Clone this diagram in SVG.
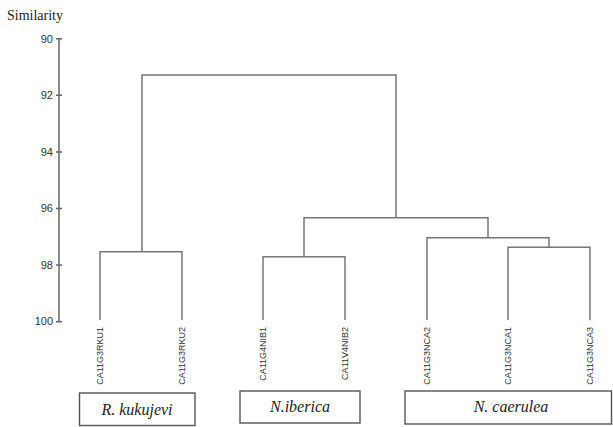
<svg xmlns="http://www.w3.org/2000/svg" width="613" height="427" viewBox="0 0 613 427">
<style>
.ln{fill:none;stroke:#777;stroke-width:1.5}
.ax{fill:none;stroke:#666;stroke-width:1.5}
.tk{font-family:"Liberation Sans",Arial,sans-serif;font-size:11px;fill:#333;text-anchor:end}
.lf{font-family:"Liberation Sans",Arial,sans-serif;font-size:9px;fill:#333;text-anchor:end}
.bx{fill:#fff;stroke:#555;stroke-width:1.4}
.sp{font-family:"Liberation Serif","Times New Roman",serif;font-style:italic;font-size:16px;fill:#222;text-anchor:middle}
</style>
<rect width="613" height="427" fill="#fff"/>
<text x="7" y="20" font-family="'Liberation Serif','Times New Roman',serif" font-size="14" fill="#222">Similarity</text>
<g id="axis">
<line class="ax" x1="59" y1="38.7" x2="59" y2="321.7"/>
<path class="ax" d="M56 38.7H62M56 95.3H62M56 151.9H62M56 208.5H62M56 265.1H62M56 321.7H62"/>
<text class="tk" x="53" y="42.5">90</text>
<text class="tk" x="53" y="99">92</text>
<text class="tk" x="53" y="155.6">94</text>
<text class="tk" x="53" y="212.2">96</text>
<text class="tk" x="53" y="268.8">98</text>
<text class="tk" x="53" y="325.4">100</text>
</g>
<g id="connectors">
<path class="ln" d="M142 251.7V75H396V217.7"/>
<path class="ln" d="M100 320V251.7H182V320"/>
<path class="ln" d="M304 256.7V217.7H488V237.7"/>
<path class="ln" d="M263 320V256.7H345V320"/>
<path class="ln" d="M427 320V237.7H549V247.3"/>
<path class="ln" d="M508 320V247.3H590V320"/>
</g>
<g id="leaf-CA11G3RKU1"><text class="lf" transform="translate(103,327) rotate(-90)">CA11G3RKU1</text></g>
<g id="leaf-CA11G3RKU2"><text class="lf" transform="translate(185,327) rotate(-90)">CA11G3RKU2</text></g>
<g id="leaf-CA11G4NIB1"><text class="lf" transform="translate(266,327) rotate(-90)">CA11G4NIB1</text></g>
<g id="leaf-CA11V4NIB2"><text class="lf" transform="translate(348,327) rotate(-90)">CA11V4NIB2</text></g>
<g id="leaf-CA11G3NCA2"><text class="lf" transform="translate(430,327) rotate(-90)">CA11G3NCA2</text></g>
<g id="leaf-CA11G3NCA1"><text class="lf" transform="translate(511,327) rotate(-90)">CA11G3NCA1</text></g>
<g id="leaf-CA11G3NCA3"><text class="lf" transform="translate(593,327) rotate(-90)">CA11G3NCA3</text></g>
<g id="box-kukujevi"><rect class="bx" x="79.5" y="393" width="115.5" height="32.5"/><text class="sp" x="137" y="415">R. kukujevi</text></g>
<g id="box-iberica"><rect class="bx" x="240" y="391" width="120" height="32"/><text class="sp" x="300" y="412">N.iberica</text></g>
<g id="box-caerulea"><rect class="bx" x="405" y="391" width="206.5" height="33"/><text class="sp" x="511" y="412">N. caerulea</text></g>
</svg>
